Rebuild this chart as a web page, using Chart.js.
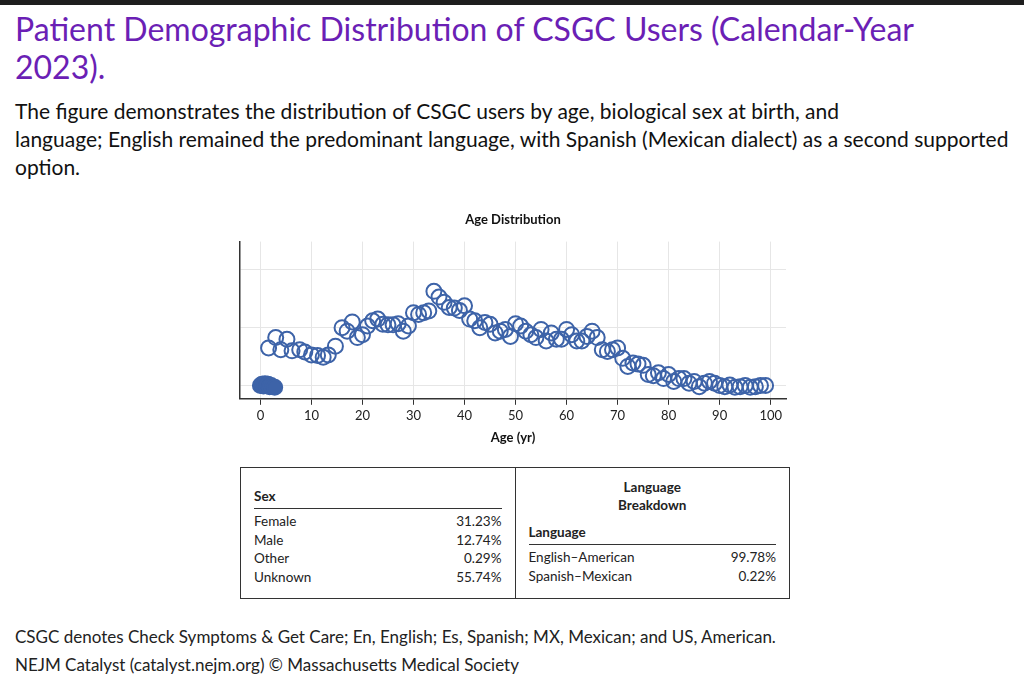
<!DOCTYPE html>
<html><head><meta charset="utf-8">
<script src="https://cdn.jsdelivr.net/npm/chart.js@4"></script>
<style>
body{margin:0;width:1024px;height:691px;background:#fff;font-family:Lato,"Open Sans",sans-serif;position:relative;overflow:hidden}
#bar{position:absolute;left:0;top:0;width:1024px;height:5px;background:#1e1e1e}
h1{position:absolute;left:15px;top:10px;margin:0;width:960px;font-weight:400;font-size:32px;line-height:38px;color:#6b1fb5}
#desc{position:absolute;left:15px;top:97px;width:1005px;font-size:21px;line-height:28px;color:#111}
#wrap{position:absolute;left:200px;top:210px;width:600px;height:240px}
table{position:absolute;left:240px;top:467px;width:550px;height:132px;border:1px solid #333;border-collapse:collapse;font-size:13.5px;color:#222}
td.c{border:1px solid #333;width:50%;vertical-align:top;padding:0 13px}
.r{display:flex;justify-content:space-between;line-height:18.5px}
.h{font-weight:700;font-size:13.5px;border-bottom:1px solid #333;padding-bottom:4px;margin-bottom:3px}
.foot{position:absolute;left:15px;font-size:17px;color:#222}
</style></head><body>
<div id="bar"></div>
<h1>Patient Demographic Distribution of CSGC Users (Calendar-Year 2023).</h1>
<div id="desc">The figure demonstrates the distribution of CSGC users by age, biological sex at birth, and<br>language; English remained the predominant language, with Spanish (Mexican dialect) as a second supported option.</div>
<div id="wrap"><canvas id="c"></canvas></div>
<table><tr>
<td class="c" id="sexCell"></td>
<td class="c" id="langCell"></td>
</tr></table>
<div class="foot" style="top:626px">CSGC denotes Check Symptoms &amp; Get Care; En, English; Es, Spanish; MX, Mexican; and US, American.</div>
<div class="foot" style="top:654px">NEJM Catalyst (catalyst.nejm.org) © Massachusetts Medical Society</div>
<script>
const infantAges = [0, 0.3, 0.6, 0.9, 1.2, 1.5, 1.8, 2.1, 2.8];
const infantValues = [0, 0.02, -0.01, 0.03, 0, 0.02, -0.02, 0, -0.03];
const ages = [1.6, 3, 4, 5.2, 6.2, 7.7, 8.7, 10, 11.2, 12.3, 13.3, 14.7, 16, 17, 18, 19, 20, 21, 22, 23, 24, 25, 26, 27, 28, 29,
  30, 31, 32, 33, 34, 35, 36, 37, 38, 39, 40, 41, 42, 43, 44, 45, 46, 47, 48, 49, 50, 51, 52, 53, 54, 55, 56, 57, 58, 59,
  60, 61, 62, 63, 64, 65, 66, 67, 68, 69, 70, 71, 72, 73, 74, 75, 76, 77, 78, 79, 80, 81, 82, 83, 84, 85, 86, 87, 88, 89,
  90, 91, 92, 93, 94, 95, 96, 97, 98, 99];
const values = [0.65, 0.83, 0.62, 0.8, 0.6, 0.62, 0.58, 0.53, 0.52, 0.49, 0.53, 0.68, 1.0, 0.94, 1.1, 0.83, 0.88, 1.03, 1.12, 1.15,
  1.06, 1.05, 1.05, 1.07, 0.94, 1.03, 1.26, 1.23, 1.26, 1.29, 1.63, 1.53, 1.44, 1.35, 1.34, 1.3, 1.38, 1.15, 1.12, 1.0,
  1.09, 1.06, 0.91, 0.94, 0.97, 0.85, 1.07, 1.03, 0.94, 0.88, 0.83, 0.97, 0.77, 0.91, 0.8, 0.8, 0.97, 0.88, 0.77, 0.77,
  0.85, 0.94, 0.83, 0.62, 0.59, 0.62, 0.65, 0.47, 0.33, 0.39, 0.37, 0.35, 0.19, 0.17, 0.22, 0.12, 0.19, 0.07, 0.12, 0.12,
  0.04, 0.07, -0.02, 0.04, 0.07, 0.04, 0, -0.02, 0.01, -0.03, -0.02, 0, -0.03, -0.02, 0, 0];
const xTicks = [0, 10, 20, 30, 40, 50, 60, 70, 80, 90, 100];
const sexLabels = ['Female', 'Male', 'Other', 'Unknown'];
const sexShares = ['31.23%', '12.74%', '0.29%', '55.74%'];
const langLabels = ['English–American', 'Spanish–Mexican'];
const langShares = ['99.78%', '0.22%'];

const rows = (l, v) => l.map((t, i) => '<div class="r"><span>' + t + '</span><span>' + v[i] + '</span></div>').join('');
document.getElementById('sexCell').innerHTML =
  '<div style="height:20px"></div><div class="h">Sex</div>' + rows(sexLabels, sexShares);
document.getElementById('langCell').innerHTML =
  '<div style="text-align:center;font-weight:700;line-height:18px;margin-top:10px">Language<br>Breakdown</div>' +
  '<div class="h" style="margin-top:10px">Language</div>' + rows(langLabels, langShares);

const blue = '#3d63a8';
new Chart(document.getElementById('c'), {
  type: 'scatter',
  data: {
    datasets: [
      { data: infantAges.map((x, i) => ({ x, y: infantValues[i] })), borderColor: blue, backgroundColor: blue, pointRadius: 7.5, borderWidth: 2 },
      { data: ages.map((x, i) => ({ x, y: values[i] })), borderColor: blue, backgroundColor: 'rgba(0,0,0,0)', pointRadius: 7.5, borderWidth: 2 },
    ],
  },
  options: {
    responsive: true,
    maintainAspectRatio: false,
    animation: false,
    layout: { padding: { left: 40, right: 14 } },
    plugins: {
      legend: { display: false },
      tooltip: { enabled: false },
      title: { display: true, text: 'Age Distribution', color: '#111', font: { family: 'Lato', size: 13, weight: 'bold' }, padding: { top: 2, bottom: 14 } },
    },
    scales: {
      x: {
        type: 'linear', min: -4, max: 103,
        afterBuildTicks: (a) => { a.ticks = xTicks.map((v) => ({ value: v })); },
        grid: { color: '#e6e6e6', drawTicks: true, tickColor: '#333', tickLength: 6 },
        border: { color: '#333', width: 1.5 },
        ticks: { color: '#222', font: { family: 'Lato', size: 13 } },
        title: { display: true, text: 'Age (yr)', color: '#111', font: { family: 'Lato', size: 13, weight: 'bold' }, padding: { top: 4 } },
      },
      y: {
        min: -0.23, max: 2.49,
        afterBuildTicks: (a) => { a.ticks = [0, 1, 2].map((v) => ({ value: v })); },
        grid: { color: '#e6e6e6', drawTicks: false },
        border: { color: '#333', width: 1.5 },
        ticks: { display: false },
      },
    },
  },
});
</script>
</body></html>
